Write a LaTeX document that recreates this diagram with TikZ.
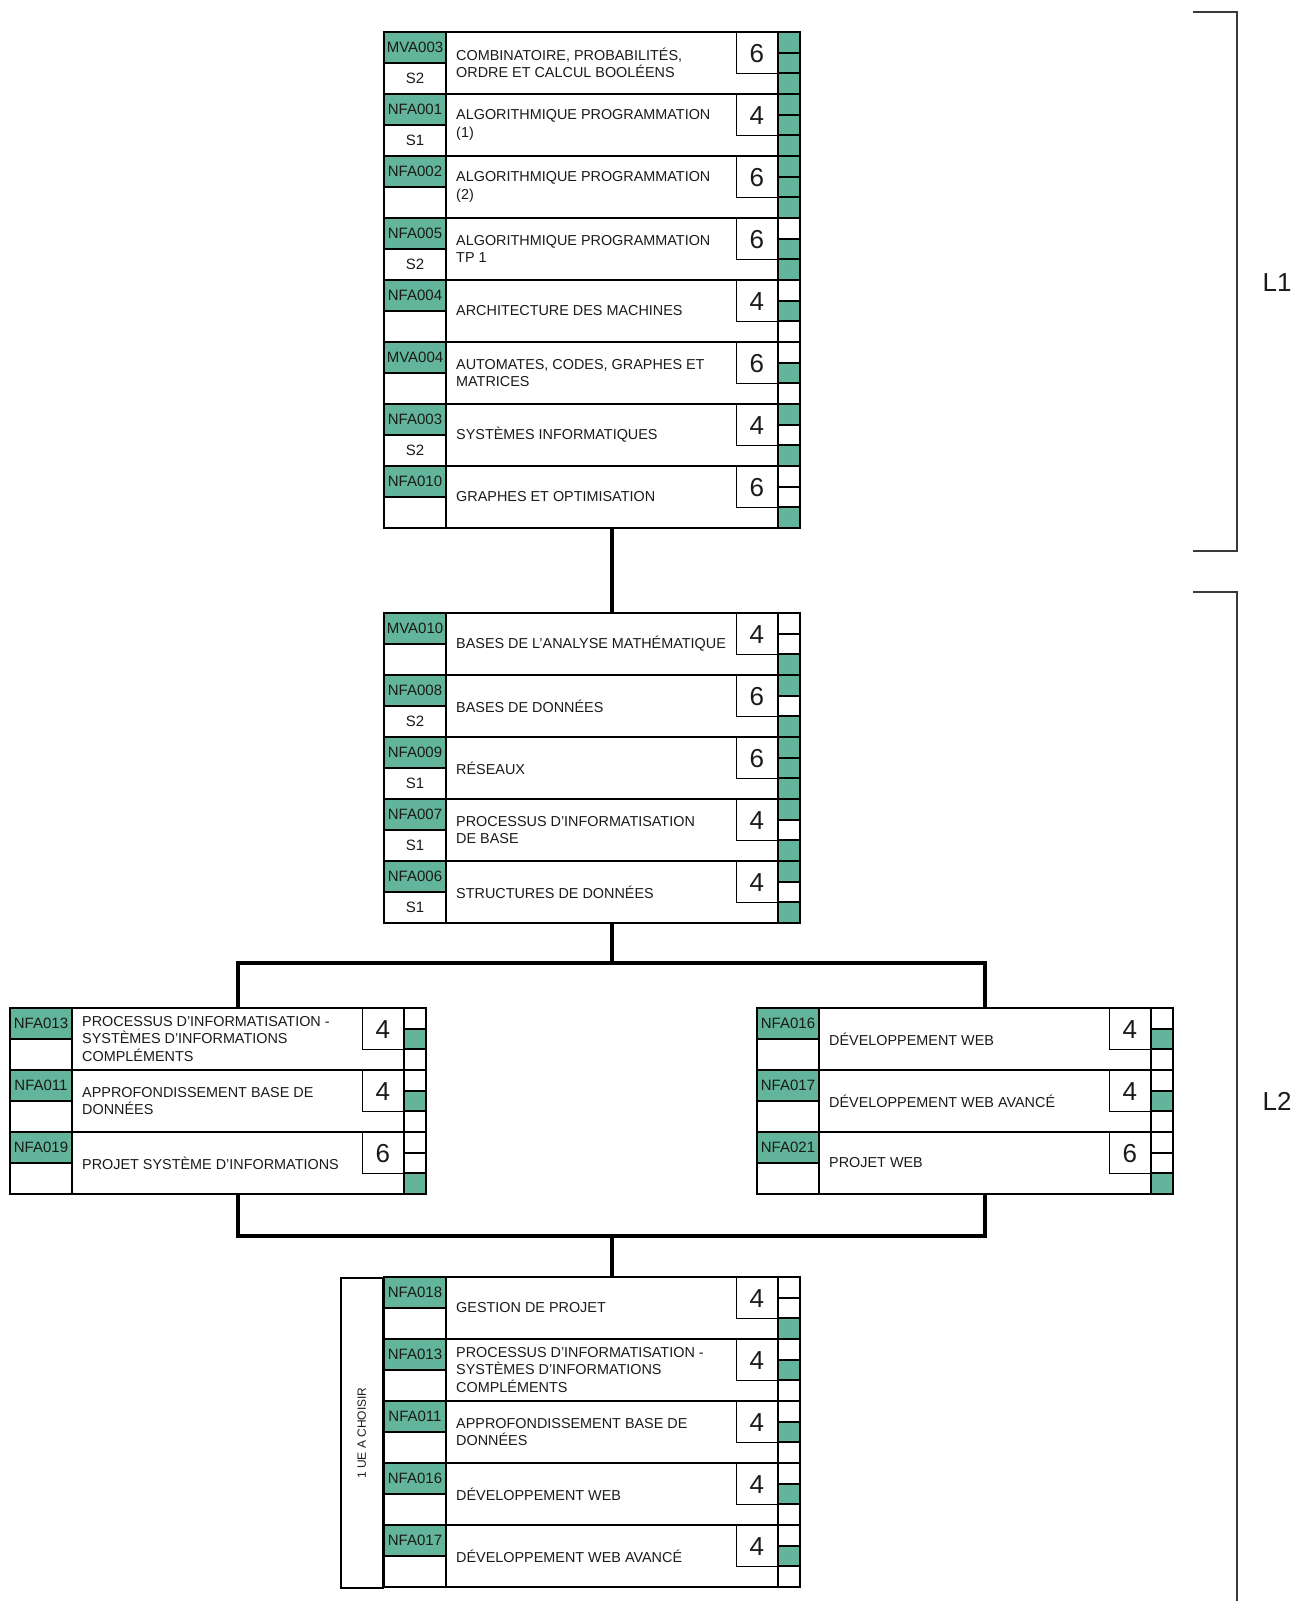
\documentclass[tikz,border=0pt]{standalone}
\usepackage{fontspec}
\setmainfont{Liberation Sans}
\definecolor{ueg}{HTML}{62B59B}
\definecolor{txtc}{HTML}{1A1A1A}
\definecolor{brkc}{HTML}{3A3A3A}
\tikzset{
  rowbox/.style={anchor=north west, minimum width=416pt, minimum height=62pt, inner sep=0pt, outer sep=0pt},
  txtarea/.style={anchor=north west, minimum width=332pt, minimum height=62pt, inner sep=0pt, outer sep=0pt},
  codetxt/.style={inner sep=0pt, text=txtc, font=\fontsize{15}{17}\selectfont},
  uetxt/.style={anchor=west, align=left, inner sep=0pt, text=txtc, font=\fontsize{14.4}{17.3}\selectfont},
  numbox/.style={anchor=north east, draw=black, line width=1.2pt, fill=white, minimum width=41pt, minimum height=41pt, inner sep=0pt, text=txtc, font=\fontsize{26}{28}\selectfont},
  sq/.style={draw=black, line width=1.8pt, minimum width=22pt, minimum height=20.667pt, inner sep=0pt, outer sep=0pt},
  midline/.style={draw=black, line width=2pt},
  outline/.style={draw=black, line width=2.4pt},
  conn/.style={draw=black, line width=4.5pt, line join=miter},
  brk/.style={draw=brkc, line width=1.8pt},
  lvl/.style={inner sep=0pt, text=txtc, font=\fontsize{26}{28}\selectfont},
}
\newcommand\urow[9]{%
\begin{scope}[shift={(#2)}]
  \node[rowbox] (#1) at (0,0) {};
  \fill[ueg] (0,0) rectangle (62,31);
  \node[codetxt] (#1c) at (31,15.5) {#3};
  \node[codetxt] (#1s) at (31,46.5) {#4};
  \node[txtarea] (#1t) at (62,0) {};
  \node[uetxt] (#1x) at (72,31) {#5};
  \node[numbox] (#1n) at (394,0) {#6};
  \node[sq, fill=#7] (#1a) at (405,10.333) {};
  \node[sq, fill=#8] (#1b) at (405,31) {};
  \node[sq, fill=#9] (#1d) at (405,51.667) {};
  \draw[midline] (0,31) -- (62,31);
  \draw[outline] (0,0) rectangle (416,62) (62,0) -- (62,62) (394,0) -- (394,62);
\end{scope}}
\begin{document}
\begin{tikzpicture}[x=1pt,y=-1pt]
\useasboundingbox (0,0) rectangle (1295,1601);
\fill[white] (0,0) rectangle (1295,1601);

% ---- L1 block
\urow{b1r1}{384,32}{MVA003}{S2}{COMBINATOIRE, PROBABILITÉS,\\ORDRE ET CALCUL BOOLÉENS}{6}{ueg}{ueg}{ueg}
\urow{b1r2}{384,94}{NFA001}{S1}{ALGORITHMIQUE PROGRAMMATION\\(1)}{4}{ueg}{ueg}{ueg}
\urow{b1r3}{384,156}{NFA002}{}{ALGORITHMIQUE PROGRAMMATION\\(2)}{6}{ueg}{ueg}{ueg}
\urow{b1r4}{384,218}{NFA005}{S2}{ALGORITHMIQUE PROGRAMMATION\\TP 1}{6}{white}{ueg}{ueg}
\urow{b1r5}{384,280}{NFA004}{}{ARCHITECTURE DES MACHINES}{4}{white}{ueg}{white}
\urow{b1r6}{384,342}{MVA004}{}{AUTOMATES, CODES, GRAPHES ET\\MATRICES}{6}{white}{ueg}{white}
\urow{b1r7}{384,404}{NFA003}{S2}{SYSTÈMES INFORMATIQUES}{4}{ueg}{white}{ueg}
\urow{b1r8}{384,466}{NFA010}{}{GRAPHES ET OPTIMISATION}{6}{white}{white}{ueg}

% ---- L2 common block
\urow{b2r1}{384,613}{MVA010}{}{BASES DE L’ANALYSE MATHÉMATIQUE}{4}{white}{white}{ueg}
\urow{b2r2}{384,675}{NFA008}{S2}{BASES DE DONNÉES}{6}{ueg}{white}{ueg}
\urow{b2r3}{384,737}{NFA009}{S1}{RÉSEAUX}{6}{ueg}{ueg}{ueg}
\urow{b2r4}{384,799}{NFA007}{S1}{PROCESSUS D’INFORMATISATION\\DE BASE}{4}{ueg}{white}{ueg}
\urow{b2r5}{384,861}{NFA006}{S1}{STRUCTURES DE DONNÉES}{4}{ueg}{white}{ueg}

% ---- left branch
\urow{b3r1}{10,1008}{NFA013}{}{PROCESSUS D’INFORMATISATION -\\SYSTÈMES D’INFORMATIONS\\COMPLÉMENTS}{4}{white}{ueg}{white}
\urow{b3r2}{10,1070}{NFA011}{}{APPROFONDISSEMENT BASE DE\\DONNÉES}{4}{white}{ueg}{white}
\urow{b3r3}{10,1132}{NFA019}{}{PROJET SYSTÈME D’INFORMATIONS}{6}{white}{white}{ueg}

% ---- right branch
\urow{b4r1}{757,1008}{NFA016}{}{DÉVELOPPEMENT WEB}{4}{white}{ueg}{white}
\urow{b4r2}{757,1070}{NFA017}{}{DÉVELOPPEMENT WEB AVANCÉ}{4}{white}{ueg}{white}
\urow{b4r3}{757,1132}{NFA021}{}{PROJET WEB}{6}{white}{white}{ueg}

% ---- bottom block
\urow{b5r1}{384,1277}{NFA018}{}{GESTION DE PROJET}{4}{white}{white}{ueg}
\urow{b5r2}{384,1339}{NFA013}{}{PROCESSUS D’INFORMATISATION -\\SYSTÈMES D’INFORMATIONS\\COMPLÉMENTS}{4}{white}{ueg}{white}
\urow{b5r3}{384,1401}{NFA011}{}{APPROFONDISSEMENT BASE DE\\DONNÉES}{4}{white}{ueg}{white}
\urow{b5r4}{384,1463}{NFA016}{}{DÉVELOPPEMENT WEB}{4}{white}{ueg}{white}
\urow{b5r5}{384,1525}{NFA017}{}{DÉVELOPPEMENT WEB AVANCÉ}{4}{white}{ueg}{white}
\node[outline, anchor=north east, minimum width=42pt, minimum height=310pt, inner sep=0pt] (b5lab) at (384,1277) {};
\node[rotate=90, inner sep=0pt, text=txtc, font=\fontsize{12}{14}\selectfont] (b5labt) at (b5lab.center) {1 UE A CHOISIR};

% ---- connectors
\draw[conn] (b1r8t.south) -- (b2r1t.north);
\draw[conn] (b2r5t.south) -- ++(0,40) coordinate (split);
\draw[conn] (b3r1t.north) |- (split) -| (b4r1t.north);
\path (b5r1t.north) ++(0,-41) coordinate (join);
\draw[conn] (b3r3t.south) |- (join) -| (b4r3t.south);
\draw[conn] (join) -- (b5r1t.north);

% ---- level brackets
\coordinate (l1a) at (1193,12);
\coordinate (l1b) at (1237,551);
\coordinate (l1c) at (1193,551);
\draw[brk] (l1a) -| (l1b) -- (l1c);
\node[lvl] (L1) at (1277,283) {L1};
\coordinate (l2a) at (1193,592);
\coordinate (l2b) at (1237,1601);
\draw[brk] (l2a) -| (l2b);
\node[lvl] (L2) at (1277,1101) {L2};
\end{tikzpicture}
\end{document}
